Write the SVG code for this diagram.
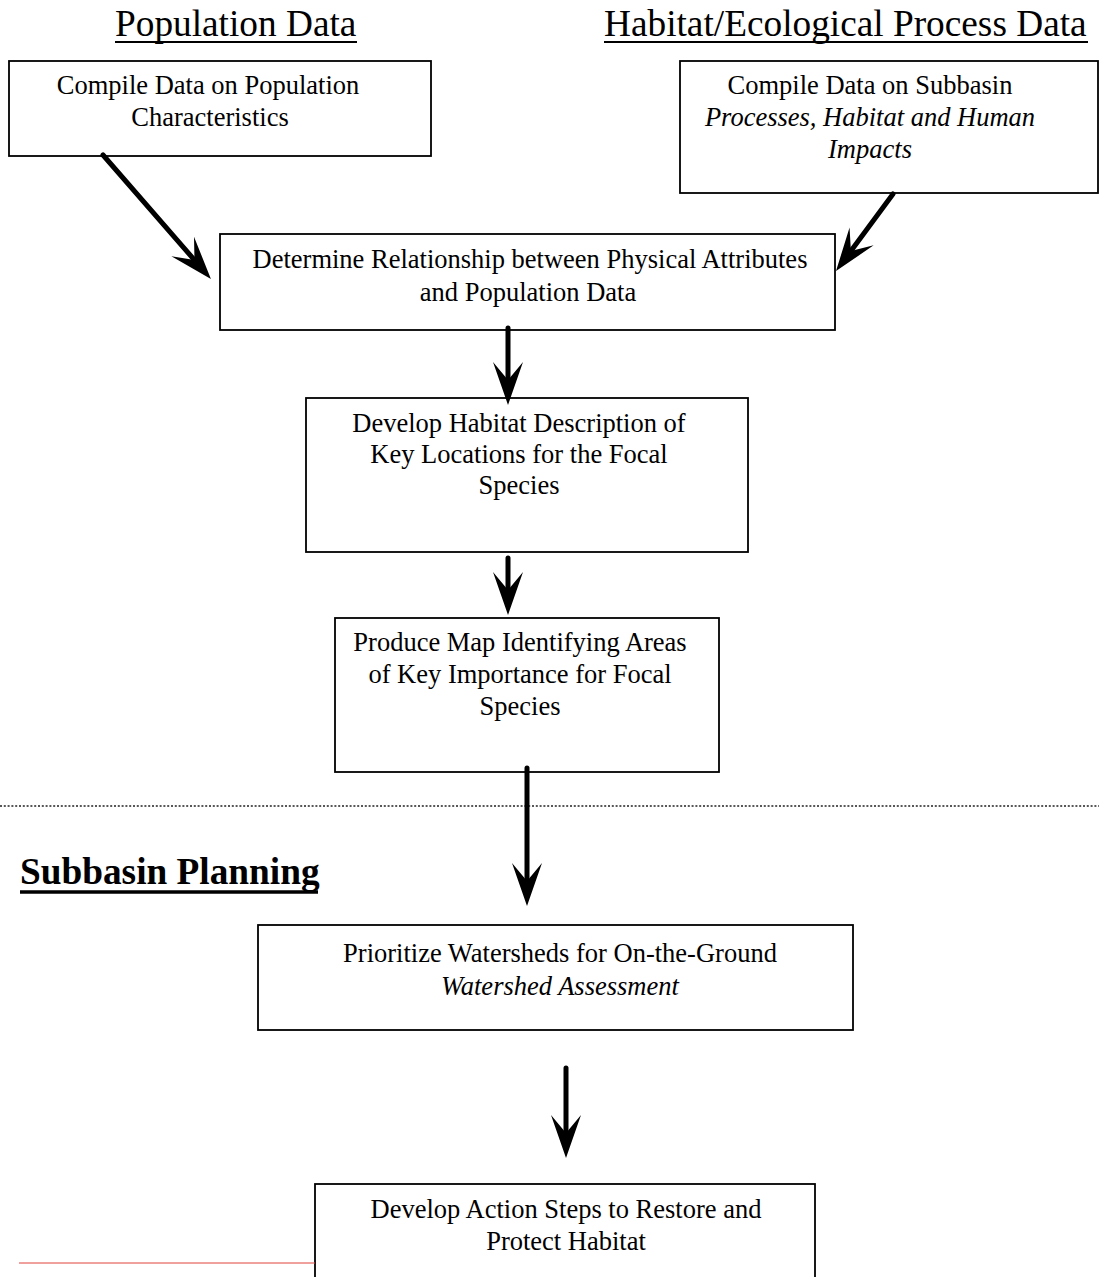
<svg xmlns="http://www.w3.org/2000/svg" width="1099" height="1277" viewBox="0 0 1099 1277">
<style>
  .box { fill: #fff; stroke: #000; stroke-width: 1.8; }
  .t { font-family: "Liberation Serif", "Times New Roman", serif; font-size: 26.5px; fill: #000; text-anchor: middle; }
  .i { font-style: italic; }
  .h { font-family: "Liberation Serif", "Times New Roman", serif; font-size: 37.3px; fill: #000; }
  .hb { font-weight: bold; }
  .ul { stroke: #000; stroke-width: 2; }
  .conn { stroke: #000; stroke-width: 5; fill: none; stroke-linecap: round; marker-end: url(#ah); }
</style>
<defs>
  <marker id="ah" markerUnits="userSpaceOnUse" viewBox="-45 -17 47 34" refX="-25" refY="0" markerWidth="47" markerHeight="34" orient="auto" overflow="visible">
    <path d="M0,0 L-43,-15 L-25,0 L-43,15 Z" fill="#000"/>
  </marker>
</defs>
<rect width="1099" height="1277" fill="#fff"/>

<g id="headers">
  <text class="h" x="115" y="36">Population Data</text>
  <line class="ul" x1="115" y1="42" x2="357" y2="42"/>
  <text class="h" x="604" y="36">Habitat/Ecological Process Data</text>
  <line class="ul" x1="604" y1="42" x2="1088" y2="42"/>
</g>

<g id="n1">
  <rect class="box" x="9" y="61" width="422" height="95"/>
  <text class="t" x="208" y="94">Compile Data on Population</text>
  <text class="t" x="210" y="126">Characteristics</text>
</g>

<g id="n2">
  <rect class="box" x="680" y="61" width="418" height="132"/>
  <text class="t" x="870" y="94">Compile Data on Subbasin</text>
  <text class="t i" x="870" y="126">Processes, Habitat and Human</text>
  <text class="t i" x="870" y="158">Impacts</text>
</g>

<g id="n3">
  <rect class="box" x="220" y="234" width="615" height="96"/>
  <text class="t" x="530" y="268">Determine Relationship between Physical Attributes</text>
  <text class="t" x="528" y="301">and Population Data</text>
</g>

<g id="n4">
  <rect class="box" x="306" y="398" width="442" height="154"/>
  <text class="t" x="519" y="432">Develop Habitat Description of</text>
  <text class="t" x="519" y="463">Key Locations for the Focal</text>
  <text class="t" x="519" y="494">Species</text>
</g>

<g id="n5">
  <rect class="box" x="335" y="618" width="384" height="154"/>
  <text class="t" x="520" y="651">Produce Map Identifying Areas</text>
  <text class="t" x="520" y="683">of Key Importance for Focal</text>
  <text class="t" x="520" y="715">Species</text>
</g>

<g id="separator">
  <line x1="0" y1="806" x2="1099" y2="806" stroke="#222" stroke-width="1.5" stroke-dasharray="2 1.8"/>
</g>

<g id="section">
  <text class="h hb" x="20" y="884">Subbasin Planning</text>
  <line x1="20" y1="892" x2="318" y2="892" stroke="#000" stroke-width="3.5"/>
</g>

<g id="n6">
  <rect class="box" x="258" y="925" width="595" height="105"/>
  <text class="t" x="560" y="962">Prioritize Watersheds for On-the-Ground</text>
  <text class="t i" x="560" y="995">Watershed Assessment</text>
</g>

<g id="n7">
  <rect class="box" x="315" y="1184" width="500" height="110"/>
  <text class="t" x="566" y="1218">Develop Action Steps to Restore and</text>
  <text class="t" x="566" y="1250">Protect Habitat</text>
  <line x1="19" y1="1263" x2="315" y2="1263" stroke="#e0403a" stroke-width="1"/>
</g>

<g id="connectors">
  <line class="conn" x1="103" y1="155" x2="194.5" y2="260.1"/>
  <line class="conn" x1="893" y1="194" x2="850.9" y2="250.9"/>
  <line class="conn" x1="508" y1="328" x2="508" y2="380"/>
  <line class="conn" x1="508" y1="558" x2="508" y2="590"/>
  <line class="conn" x1="527" y1="768" x2="527" y2="881"/>
  <line class="conn" x1="566" y1="1068" x2="566" y2="1133"/>
</g>
</svg>
